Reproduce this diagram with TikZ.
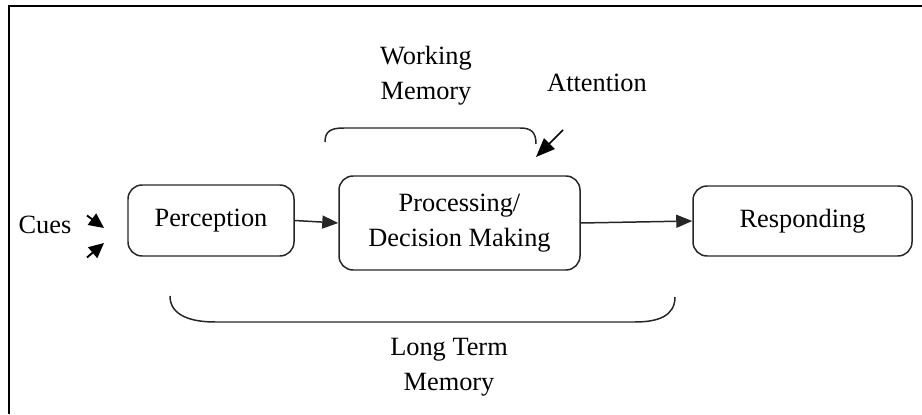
\documentclass[tikz,border=0pt]{standalone}
\usepackage{fontspec}
\setmainfont{Liberation Serif}
\usetikzlibrary{positioning, arrows.meta}

\begin{document}
\begin{tikzpicture}[
    every node/.style={font=\fontsize{15}{20}\selectfont},
    % Styles
    stage/.style={draw=black!85, line width=0.85pt, rounded corners=8pt, align=center, inner sep=0pt},
    flow-arrow/.style={-{Triangle[length=0.32cm, width=0.26cm]}, line width=0.85pt, black!85},
    attn-arrow/.style={-{Triangle[length=0.38cm, width=0.30cm]}, line width=0.9pt, black},
    cue-arrow/.style={-{Triangle[length=0.30cm, width=0.28cm]}, line width=1.1pt, black},
    memory-brace/.style={line width=0.85pt, black!85},
    label/.style={align=center},
]

\useasboundingbox (0, 0) rectangle (18.44, 8.28);

% Frame (top and left edges)
\draw[line width=1.2pt] (0.18, 0) -- (0.18, 8.16) -- (18.44, 8.16);

% Stages
\node[stage, minimum width=3.32cm, minimum height=1.42cm] (perception) at (4.22, 3.87) {Perception};
\node[stage, minimum width=4.82cm, minimum height=1.88cm] (processing) at (9.19, 3.82) {Processing/\\Decision Making};
\node[stage, minimum width=4.38cm, minimum height=1.40cm] (responding) at (16.05, 3.86) {Responding};

\draw[flow-arrow] (perception.east) -- (processing.west);
\draw[flow-arrow] (processing.east) -- (responding.west);

% Cues
\node[label] (cues) at (0.90, 3.78) {Cues};
\coordinate (cue-a) at (1.74, 3.97);
\coordinate (cue-a-tip) at (2.08, 3.72);
\coordinate (cue-b) at (1.74, 3.13);
\coordinate (cue-b-tip) at (2.08, 3.42);
\draw[cue-arrow] (cue-a) -- (cue-a-tip);
\draw[cue-arrow] (cue-b) -- (cue-b-tip);

% Working memory bracket
\node[label] (working) at (8.52, 6.76) {Working\\Memory};
\draw[memory-brace] (6.50, 5.44) .. controls (6.50, 5.66) and (6.62, 5.72) .. (6.88, 5.72)
    -- (10.40, 5.72) .. controls (10.62, 5.72) and (10.72, 5.64) .. (10.72, 5.40);

% Attention
\node[label] (attention) at (11.94, 6.62) {Attention};
\coordinate (attn-tail) at (11.26, 5.68);
\coordinate (attn-tip) at (10.72, 5.14);
\draw[attn-arrow] (attn-tail) -- (attn-tip);

% Long term memory bracket
\draw[memory-brace] (3.40, 2.36) .. controls (3.40, 1.96) and (3.84, 1.84) .. (4.30, 1.84)
    -- (12.70, 1.84) .. controls (13.16, 1.84) and (13.50, 1.96) .. (13.50, 2.34);
\node[label] (longterm) at (8.98, 0.94) {Long Term\\Memory};

\end{tikzpicture}
\end{document}
